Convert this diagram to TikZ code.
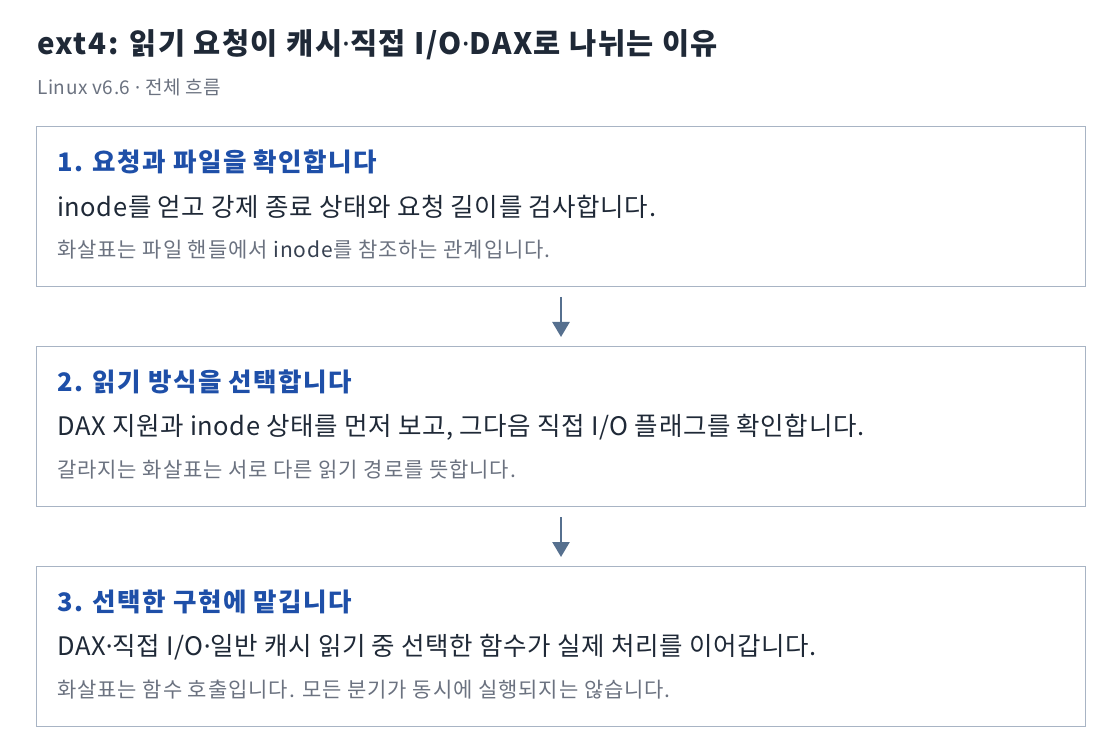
\documentclass[tikz,border=0pt]{standalone}
\usepackage{fontspec}
\setmainfont{Noto Sans CJK KR}
\newfontfamily\latinf{Noto Sans}
\usetikzlibrary{arrows.meta}
\definecolor{titlec}{HTML}{1F2937}
\definecolor{subc}{HTML}{6B7280}
\definecolor{stepc}{HTML}{1E4FA8}
\definecolor{bodyc}{HTML}{1F2937}
\definecolor{notec}{HTML}{6B7280}
\definecolor{codec}{HTML}{374151}
\definecolor{boxc}{HTML}{A8B4C4}
\definecolor{arrc}{HTML}{56708F}
\tikzset{
  stepbox/.style={draw=boxc, line width=1pt, fill=white, minimum width=1049pt, minimum height=160pt, inner sep=0pt, anchor=north west},
  steptitle/.style={anchor=west, inner sep=0pt, text=stepc, font=\fontsize{25.5}{30}\selectfont\bfseries\addfontfeatures{LetterSpace=5.6}},
  stepbody/.style={anchor=west, inner sep=0pt, text=bodyc, font=\fontsize{25.5}{30}\selectfont\addfontfeatures{LetterSpace=2.3}},
  stepnote/.style={anchor=west, inner sep=0pt, text=notec, font=\fontsize{21}{24}\selectfont\addfontfeatures{LetterSpace=4.3}},
  flow/.style={draw=arrc, line width=2.5pt, -{Triangle[width=17pt,length=15pt]}},
}
\newcommand{\codeword}[1]{{\color{codec}#1}}
\newcommand{\md}{{\latinf ·}}
\begin{document}
\begin{tikzpicture}[x=1pt,y=-1pt]
\useasboundingbox[fill=white] (0,0) rectangle (1120,754);
\node[anchor=west, inner sep=0pt, text=titlec, font=\fontsize{29.5}{34}\selectfont\bfseries\addfontfeatures{LetterSpace=5.2}] (title) at (37,45) {ext4: 읽기 요청이 캐시\md 직접 I/O\md DAX로 나뉘는 이유};
\node[anchor=west, inner sep=0pt, text=subc, font=\fontsize{19}{22}\selectfont\addfontfeatures{LetterSpace=3}] (sub) at (37,87) {Linux v6.6 \md\ 전체 흐름};

\node[stepbox] (b1) at (36,126) {};
\node[steptitle] (t1) at (57,162) {1. 요청과 파일을 확인합니다};
\node[stepbody] (d1) at (57,207) {inode를 얻고 강제 종료 상태와 요청 길이를 검사합니다.};
\node[stepnote] (n1) at (57,250) {화살표는 파일 핸들에서 \codeword{inode}를 참조하는 관계입니다.};

\node[stepbox] (b2) at (36,346) {};
\node[steptitle] (t2) at (57,382) {2. 읽기 방식을 선택합니다};
\node[stepbody] (d2) at (57,427) {DAX 지원과 inode 상태를 먼저 보고, 그다음 직접 I/O 플래그를 확인합니다.};
\node[stepnote] (n2) at (57,470) {갈라지는 화살표는 서로 다른 읽기 경로를 뜻합니다.};

\node[stepbox] (b3) at (36,566) {};
\node[steptitle] (t3) at (57,602) {3. 선택한 구현에 맡깁니다};
\node[stepbody] (d3) at (57,647) {DAX\md 직접 I/O\md 일반 캐시 읽기 중 선택한 함수가 실제 처리를 이어갑니다.};
\node[stepnote] (n3) at (57,690) {화살표는 함수 호출입니다. 모든 분기가 동시에 실행되지는 않습니다.};

\draw[flow] ([yshift=-10pt]b1.south) -- ([yshift=9pt]b2.north);
\draw[flow] ([yshift=-10pt]b2.south) -- ([yshift=9pt]b3.north);
\end{tikzpicture}
\end{document}
